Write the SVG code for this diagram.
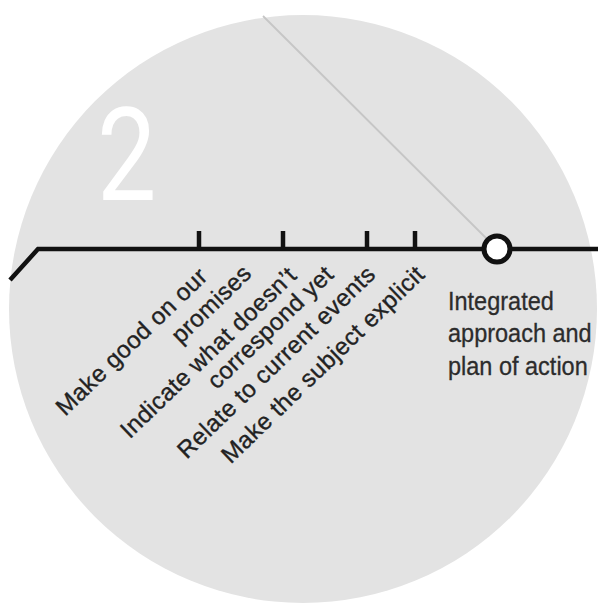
<svg xmlns="http://www.w3.org/2000/svg" width="601" height="606" viewBox="0 0 601 606">
  <defs>
    <style>
      .disc { fill: #e3e3e3; }
      .track { fill: none; stroke: #111; stroke-width: 4.5; stroke-linejoin: miter; }
      .tick { stroke: #111; stroke-width: 4.5; }
      .guide { stroke: #c6c6c6; stroke-width: 1.8; fill: none; }
      .label { font-family: "Liberation Sans", Arial, sans-serif; font-size: 24px; letter-spacing: 0.4px; fill: #222; stroke: #222; stroke-width: 0.35; text-anchor: end; }
      .goal { font-family: "Liberation Sans", Arial, sans-serif; font-size: 25px; fill: #2c2c2c; stroke: #2c2c2c; stroke-width: 0.3; }
      .stage { font-family: Roboto, "Liberation Sans", sans-serif; font-weight: 400; font-size: 129px; fill: #ffffff; }
      .station { fill: #ffffff; stroke: #111; stroke-width: 5; }
    </style>
  </defs>

  <!-- background disc -->
  <circle class="disc" cx="303" cy="309" r="294"/>

  <!-- stage number -->
  <text class="stage" transform="translate(97,200) scale(0.82,1)" x="0" y="0">2</text>

  <!-- connectors: faint guide and the main track -->
  <g id="connectors">
    <line class="guide" x1="263" y1="16" x2="487" y2="239"/>
    <polyline class="track" points="10,280 38,249 598,249"/>
  </g>

  <!-- milestone: promises -->
  <g id="milestone-promises">
    <line class="tick" x1="199" y1="231" x2="199" y2="249"/>
    <text class="label" transform="translate(209,278) rotate(-44)">Make good on our</text>
    <text class="label" transform="translate(253,275) rotate(-44)">promises</text>
  </g>

  <!-- milestone: mismatch -->
  <g id="milestone-mismatch">
    <line class="tick" x1="283" y1="231" x2="283" y2="249"/>
    <text class="label" transform="translate(298,277) rotate(-44)">Indicate what doesn’t</text>
    <text class="label" transform="translate(335,276) rotate(-44)">correspond yet</text>
  </g>

  <!-- milestone: current events -->
  <g id="milestone-events">
    <line class="tick" x1="367" y1="231" x2="367" y2="249"/>
    <text class="label" transform="translate(377,276) rotate(-44)">Relate to current events</text>
  </g>

  <!-- milestone: explicit subject -->
  <g id="milestone-explicit">
    <line class="tick" x1="415" y1="231" x2="415" y2="249"/>
    <text class="label" transform="translate(426,276) rotate(-44)">Make the subject explicit</text>
  </g>

  <!-- end station -->
  <g id="station-integrated">
    <circle class="station" cx="497" cy="249" r="13"/>
    <g transform="translate(448,0) scale(0.94,1)">
      <text class="goal" x="0" y="310">Integrated</text>
      <text class="goal" x="0" y="342.5">approach and</text>
      <text class="goal" x="0" y="375">plan of action</text>
    </g>
  </g>
</svg>
